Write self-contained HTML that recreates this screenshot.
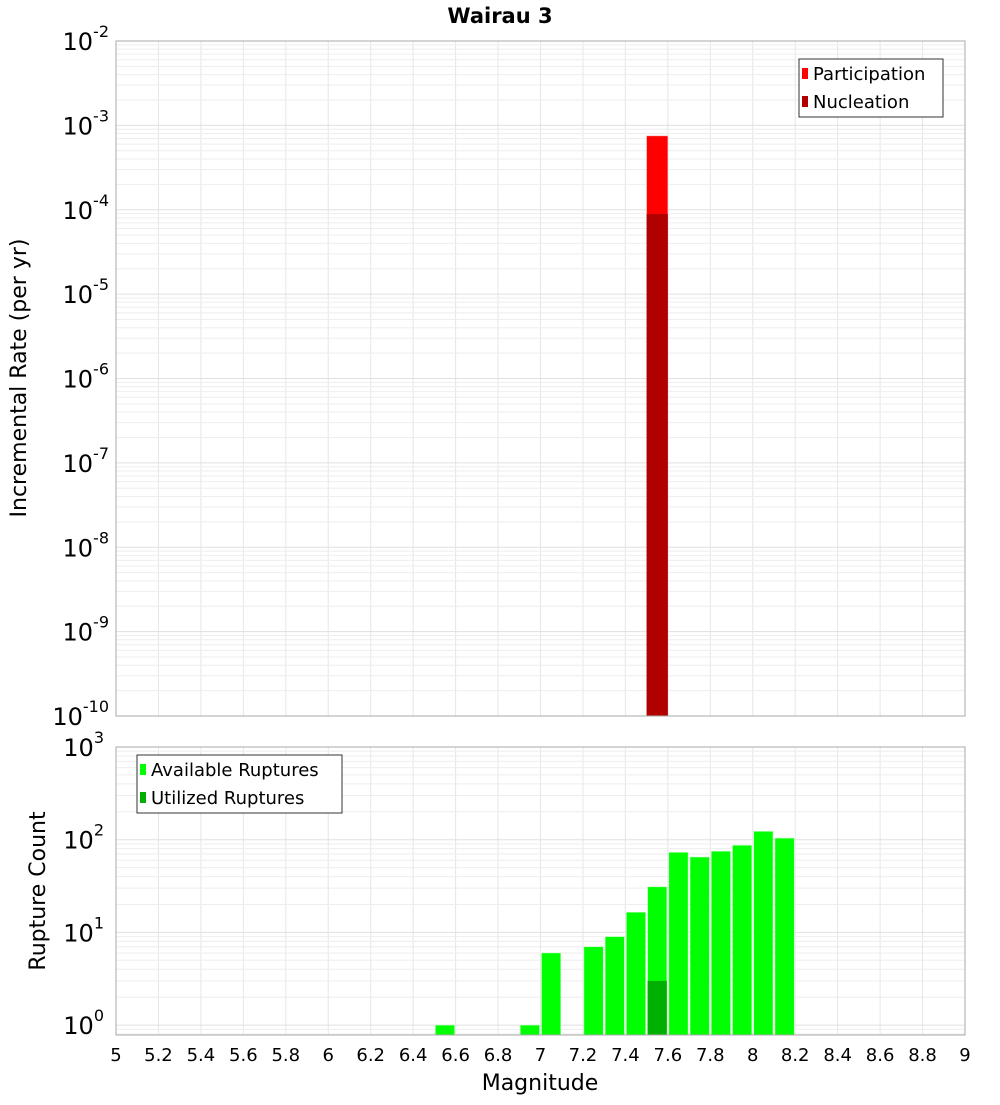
<!DOCTYPE html>
<html><head><meta charset="utf-8"><style>
body{margin:0;background:#fff;font-family:"Liberation Sans","DejaVu Sans",sans-serif}
svg text{font-family:"DejaVu Sans","Liberation Sans",sans-serif}
</style></head><body>
<svg id="c" width="1000" height="1100" xmlns="http://www.w3.org/2000/svg">
<rect width="1000" height="1100" fill="#fff"/>
<text x="500" y="23" text-anchor="middle" font-size="21" font-weight="bold">Wairau 3</text>
<text transform="translate(26,378) rotate(-90)" text-anchor="middle" font-size="22">Incremental Rate (per yr)</text>
<text transform="translate(45,891) rotate(-90)" text-anchor="middle" font-size="22">Rupture Count</text>
<text x="540" y="1090" text-anchor="middle" font-size="22">Magnitude</text>
</svg>
<script>
const binStarts=[7.5];
const participation=[7.5e-4];
const nucleation=[8.9e-5];
const countBins=[6.5,6.9,7.0,7.2,7.3,7.4,7.5,7.6,7.7,7.8,7.9,8.0,8.1];
const available=[1,1,6,7,9,16.5,31,73,65,75,87,123,104];
const utilizedBins=[7.5];
const utilized=[3];
const xTicks=["5","5.2","5.4","5.6","5.8","6","6.2","6.4","6.6","6.8","7","7.2","7.4","7.6","7.8","8","8.2","8.4","8.6","8.8","9"];
const topExps=[-2,-3,-4,-5,-6,-7,-8,-9,-10];
const botExps=[3,2,1,0];

const svg=document.getElementById('c');
const NS='http://www.w3.org/2000/svg';
function mk(t,a,p){const e=document.createElementNS(NS,t);for(const k in a)e.setAttribute(k,a[k]);(p||svg).appendChild(e);return e;}
const X0=116,X1=965;
const xs=m=>X0+(m-5)/4*(X1-X0);
const T0=41,T1=716;
const ty=v=>T0+(-2-Math.log10(v))/8*(T1-T0);
const B0=747,B1=1035,BD=92.7;
const by=v=>B0+(3-Math.log10(v))*BD;

function grid(yfn,lo,hi,top,bot){
  for(let m=5;m<=9.001;m+=0.2){const l=mk('line',{x1:xs(m),x2:xs(m),y1:top,y2:bot,stroke:'#e6e6e6','stroke-width':1});
  }
  for(let e=lo;e<=hi;e++)for(let k=1;k<10;k++){const y=yfn(k*Math.pow(10,e));if(y<top-0.5||y>bot+0.5)continue;
    const l=mk('line',{x1:X0,x2:X1,y1:y,y2:y,stroke:k==1?'#e0e0e0':'#eeeeee','stroke-width':1});
    }
}
grid(ty,-10,-2,T0,T1);
grid(by,-1,3,B0,B1);

// top bars
binStarts.forEach((b,i)=>{
  const r=mk('rect',{x:xs(b),y:ty(participation[i]),width:xs(b+0.1)-xs(b),height:T1-ty(participation[i]),fill:'#ff0000',stroke:'#ffb0b0','stroke-width':0.5});
  
  const n=mk('rect',{x:xs(b),y:ty(nucleation[i]),width:xs(b+0.1)-xs(b),height:T1-ty(nucleation[i]),fill:'#b00000'});
  
});
// bottom bars
countBins.forEach((b,i)=>{
  const y=by(available[i]);
  const r=mk('rect',{x:xs(b)+1,y:y,width:xs(b+0.1)-xs(b)-2,height:B1-y,fill:'#00ff00',stroke:'#c0ffc0','stroke-width':0.5});
  
});
utilizedBins.forEach((b,i)=>{
  const y=by(utilized[i]);
  const r=mk('rect',{x:xs(b)+1,y:y,width:xs(b+0.1)-xs(b)-2,height:B1-y,fill:'#00b000'});
  
});
// frames
const f1=mk('rect',{x:X0,y:T0,width:X1-X0,height:T1-T0,fill:'none',stroke:'#aaaaaa'});

const f2=mk('rect',{x:X0,y:B0,width:X1-X0,height:B1-B0,fill:'none',stroke:'#aaaaaa'});


function ylab(y,exp){
  const t=mk('text',{x:104,y:y+9,'text-anchor':'end','font-size':24});
  
  const s1=document.createElementNS(NS,'tspan');s1.textContent='10';t.appendChild(s1);
  const s2=document.createElementNS(NS,'tspan');s2.setAttribute('dy','-13');s2.setAttribute('font-size','16');s2.textContent=String(exp);t.appendChild(s2);
  const w=String(exp).length*10;t.setAttribute('x',104+ (exp<0?5:0));
}
topExps.forEach(e=>ylab(ty(Math.pow(10,e)),e));
botExps.forEach(e=>ylab(by(Math.pow(10,e)),e));
xTicks.forEach(s=>{
  const t=mk('text',{x:xs(parseFloat(s)),y:1061,'text-anchor':'middle','font-size':18});
  
  t.textContent=s;
});
// legends
function legend(x,y,w,items,name){
  const g=mk('g',{});
  mk('rect',{x:x,y:y,width:w,height:58,fill:'#fff',stroke:'#333'},g);
  items.forEach((it,i)=>{
    const sw=mk('rect',{x:x+3,y:y+9+i*28,width:6,height:11,fill:it[1]},g);
    
    const t=mk('text',{x:x+14,y:y+21+i*28,'font-size':18},g);
    
    t.textContent=it[0];
  });
}
legend(799,59,144,[['Participation','#ff0000'],['Nucleation','#b00000']],'top-legend');
legend(137,755,205,[['Available Ruptures','#00ff00'],['Utilized Ruptures','#00b000']],'bottom-legend');
</script>
</body></html>
